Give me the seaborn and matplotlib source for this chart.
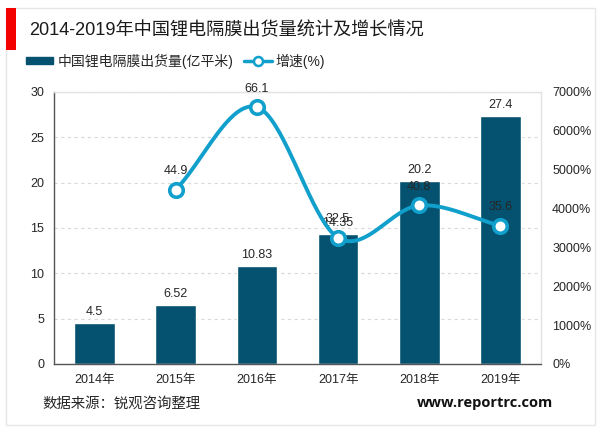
import numpy as np
import pandas as pd
import matplotlib
matplotlib.use("Agg")
import matplotlib.pyplot as plt
from matplotlib.lines import Line2D
from matplotlib.patches import Rectangle, Patch
import seaborn as sns

years = ["2014年", "2015年", "2016年", "2017年", "2018年", "2019年"]
shipments = [4.5, 6.52, 10.83, 14.35, 20.2, 27.4]
growth_years = ["2015年", "2016年", "2017年", "2018年", "2019年"]
growth = [44.9, 66.1, 32.5, 40.8, 35.6]
shipment_labels = ["4.5", "6.52", "10.83", "14.35", "20.2", "27.4"]
growth_labels = ["44.9", "66.1", "32.5", "40.8", "35.6"]
left_ticks = [0, 5, 10, 15, 20, 25, 30]
right_ticks = [0, 1000, 2000, 3000, 4000, 5000, 6000, 7000]

sns.set_theme(style="white")
plt.rcParams['font.family'] = ['Liberation Sans', 'Noto Sans CJK SC']
BAR = "#04526f"
LINE = "#11a0cc"
TXT = "#262626"

fig = plt.figure(figsize=(6, 4.33), dpi=100, facecolor="white")
W, H = 600, 433
ax = fig.add_axes([54/W, 1-364/H, (541-54)/W, (364-92)/H])

df = pd.DataFrame({"year": years, "v": shipments})
sns.barplot(data=df, x="year", y="v", color=BAR, saturation=1, width=0.5, ax=ax, zorder=2)
ax.set_xlim(-0.5, 5.5)
ax.set_ylim(0, 30)
ax.set_xlabel("")
ax.set_ylabel("")
ax.set_yticks(left_ticks)
ax.set_axisbelow(True)
ax.yaxis.grid(True, color="#d9d9d9", linestyle=(0, (3, 3)), linewidth=0.8)
ax.tick_params(axis="both", length=0, labelsize=9, labelcolor=TXT, pad=7)
for s in ["left", "bottom"]:
    ax.spines[s].set_color("#555555")
    ax.spines[s].set_linewidth(1.0)
for s in ["top", "right"]:
    ax.spines[s].set_color("#e2e2e2")
    ax.spines[s].set_linewidth(1.0)

ax2 = ax.twinx()
ax2.set_ylim(0, 7000)
ax2.set_yticks(right_ticks)
ax2.set_yticklabels([f"{t}%" for t in right_ticks])
ax2.tick_params(axis="y", length=0, labelsize=9, labelcolor=TXT, pad=8)
ax2.grid(False)
for s in ax2.spines.values():
    s.set_visible(False)

# smoothed line through the data (Catmull-Rom)
xs = np.array([years.index(y) for y in growth_years], dtype=float)
ys = np.array(growth) * 100
px = np.r_[2*xs[0]-xs[1], xs, 2*xs[-1]-xs[-2]]
py = np.r_[2*ys[0]-ys[1], ys, 2*ys[-1]-ys[-2]]
cx, cy = [], []
tt = np.linspace(0, 1, 40)
for i in range(1, len(px)-2):
    for name, p, out in (("x", px, cx), ("y", py, cy)):
        a, b, c, d = p[i-1], p[i], p[i+1], p[i+2]
        out.extend(0.5*(2*b + (c-a)*tt + (2*a-5*b+4*c-d)*tt**2 + (3*b-a-3*c+d)*tt**3))
sns.lineplot(x=cx, y=cy, color=LINE, linewidth=2.8, ax=ax2, legend=False, zorder=4, estimator=None, sort=False)
sns.scatterplot(x=xs, y=ys, s=95, facecolor="white", edgecolor=LINE, linewidth=2.6, ax=ax2, legend=False, zorder=5)

for i, (v, lab) in enumerate(zip(shipments, shipment_labels)):
    ax.annotate(lab, (i, v), xytext=(0, 3.5), textcoords="offset points", ha="center", va="bottom", fontsize=9, color=TXT, zorder=6, annotation_clip=False)
for x, y, lab in zip(xs, ys, growth_labels):
    ax2.annotate(lab, (x, y), xytext=(0, 9), textcoords="offset points", ha="center", va="bottom", fontsize=9, color=TXT, zorder=6, annotation_clip=False)

handles = [Patch(color=BAR), Line2D([], [], color=LINE, lw=2.5, marker="o", ms=6.5, mfc="white", mew=1.8)]
fig.legend(handles, ["中国锂电隔膜出货量(亿平米)", "增速(%)"], loc="center left", bbox_to_anchor=(13/W, 1-61/H),
           ncol=2, frameon=False, fontsize=10, handlelength=2.0, handleheight=0.35, handletextpad=0.3, columnspacing=0.75, labelcolor=TXT)

fig.add_artist(Rectangle((6/W, 1-425/H), 589/W, 417/H, transform=fig.transFigure, fill=False, edgecolor="#e6e6e6", lw=1))
fig.add_artist(Rectangle((6/W, 1-50/H), 10/W, 42/H, transform=fig.transFigure, facecolor="#f30000", edgecolor="none"))
fig.text(29/W, 1-30/H, "2014-2019年中国锂电隔膜出货量统计及增长情况", fontsize=13.1, color="#1a1a1a", va="center")
fig.text(42/W, 1-404/H, "数据来源：锐观咨询整理", fontsize=10.4, color=TXT, va="center")
fig.text(553/W, 1-403/H, "www.reportrc.com", fontsize=10.5, fontweight="bold", color="#111111", va="center", ha="right",
         family="Open Sans")
fig.savefig("out.png", dpi=100)
